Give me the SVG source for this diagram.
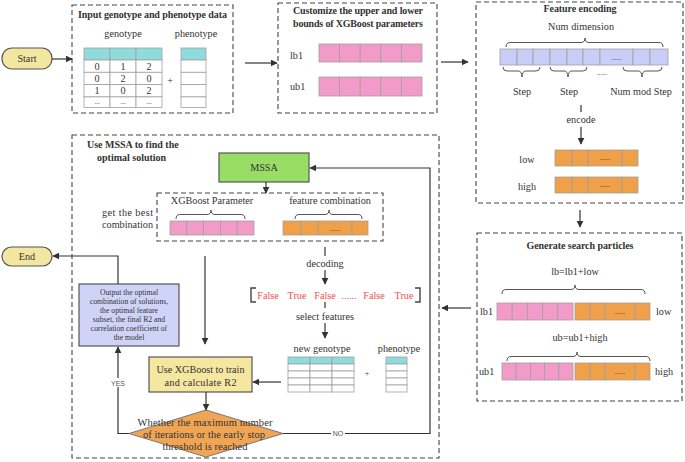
<svg xmlns="http://www.w3.org/2000/svg" width="685" height="462" viewBox="0 0 685 462">
<style>
text{font-family:"Liberation Serif","DejaVu Serif",serif;font-size:10.2px;fill:#333;}
.t{font-weight:bold;font-size:10px;}
.c{text-anchor:middle;}
.e{text-anchor:end;}
.dash{fill:none;stroke:#444;stroke-width:1.1;stroke-dasharray:5,3;}
.pk{fill:#f29ac8;stroke:#a0a0a0;stroke-width:0.8;}
.or{fill:#f0a048;stroke:#a0a0a0;stroke-width:0.8;}
.lv{fill:#c9cdf7;stroke:#a0a0a0;stroke-width:0.8;}
.cy{fill:#8edcdc;stroke:#a0a0a0;stroke-width:0.8;}
.cell{fill:#fff;stroke:#a0a0a0;stroke-width:0.8;}
.br{fill:none;stroke:#444;stroke-width:0.9;}
.ln{fill:none;stroke:#333;stroke-width:1.2;}
.ar{fill:none;stroke:#333;stroke-width:1.2;marker-end:url(#ah);}
.red{fill:#f05050;font-size:10.2px;}
.sm{font-size:7.7px;}
.lab{font-family:"Liberation Sans","DejaVu Sans",sans-serif;font-size:7px;fill:#555;}
.dots{font-size:7px;}
.dm{font-size:10.5px;}
</style>
<defs>
<marker id="ah" viewBox="0 0 10 10" refX="9" refY="5" markerWidth="7" markerHeight="7" markerUnits="userSpaceOnUse" orient="auto">
<path d="M0,0 L10,5 L0,10 z" fill="#333"/>
</marker>
</defs>

<g id="start">
<rect x="2" y="48" width="50" height="21" rx="10" fill="#f3e6a0" stroke="#555" stroke-width="1.2"/>
<text x="27" y="62" class="c">Start</text>
</g>

<g id="input-data">
<rect x="72" y="5" width="161" height="108" class="dash"/>
<text x="78" y="18" class="t" textLength="149">Input genotype and phenotype data</text>
<text x="123" y="37" class="c">genotype</text>
<text x="196" y="37" class="c">phenotype</text>
<rect x="84" y="48" width="26" height="12" class="cy"/>
<rect x="110" y="48" width="26" height="12" class="cy"/>
<rect x="136" y="48" width="26" height="12" class="cy"/>
<g class="cell">
<rect x="84" y="60" width="26" height="12.3"/><rect x="110" y="60" width="26" height="12.3"/><rect x="136" y="60" width="26" height="12.3"/>
<rect x="84" y="72.3" width="26" height="12.3"/><rect x="110" y="72.3" width="26" height="12.3"/><rect x="136" y="72.3" width="26" height="12.3"/>
<rect x="84" y="84.6" width="26" height="12.3"/><rect x="110" y="84.6" width="26" height="12.3"/><rect x="136" y="84.6" width="26" height="12.3"/>
<rect x="84" y="96.9" width="26" height="10.5"/><rect x="110" y="96.9" width="26" height="10.5"/><rect x="136" y="96.9" width="26" height="10.5"/>
</g>
<text x="97" y="69.5" class="c">0</text><text x="123" y="69.5" class="c">1</text><text x="149" y="69.5" class="c">2</text>
<text x="97" y="81.8" class="c">0</text><text x="123" y="81.8" class="c">2</text><text x="149" y="81.8" class="c">0</text>
<text x="97" y="94.1" class="c">1</text><text x="123" y="94.1" class="c">0</text><text x="149" y="94.1" class="c">2</text>
<text x="97" y="104" class="c dots">...</text><text x="123" y="104" class="c dots">...</text><text x="149" y="104" class="c dots">...</text>
<text x="170" y="84" class="c">+</text>
<rect x="181" y="48" width="25" height="12" class="cy"/>
<g class="cell">
<rect x="181" y="60" width="25" height="12.3"/><rect x="181" y="72.3" width="25" height="12.3"/><rect x="181" y="84.6" width="25" height="12.3"/><rect x="181" y="96.9" width="25" height="10.5"/>
</g>
</g>

<g id="bounds">
<rect x="278" y="3" width="159" height="110" class="dash"/>
<text x="358" y="13.5" class="t c" textLength="130">Customize the upper and lower</text>
<text x="358" y="26.5" class="t c" textLength="130">bounds of XGBoost parameters</text>
<text x="290" y="59">lb1</text>
<rect x="319" y="44" width="20.6" height="18" class="pk"/><rect x="339.6" y="44" width="20.6" height="18" class="pk"/><rect x="360.2" y="44" width="20.6" height="18" class="pk"/><rect x="380.8" y="44" width="20.6" height="18" class="pk"/><rect x="401.4" y="44" width="20.6" height="18" class="pk"/>
<text x="290" y="90">ub1</text>
<rect x="319" y="77" width="20.6" height="19" class="pk"/><rect x="339.6" y="77" width="20.6" height="19" class="pk"/><rect x="360.2" y="77" width="20.6" height="19" class="pk"/><rect x="380.8" y="77" width="20.6" height="19" class="pk"/><rect x="401.4" y="77" width="20.6" height="19" class="pk"/>
</g>

<g id="feature-encoding">
<rect x="476" y="2" width="207" height="201" class="dash"/>
<text x="580" y="12" class="t c" textLength="73">Feature encoding</text>
<text x="581" y="30" class="c" textLength="66">Num dimension</text>
<path class="br" d="M506,47 Q506,42.5 510,42.5 L581,42.5 Q585,42.5 585,38 Q585,42.5 589,42.5 L659,42.5 Q663,42.5 663,47"/>
<rect x="500" y="49" width="17" height="16" class="lv"/><rect x="517" y="49" width="16" height="16" class="lv"/><rect x="533" y="49" width="17" height="16" class="lv"/><rect x="550" y="49" width="17" height="16" class="lv"/><rect x="567" y="49" width="16" height="16" class="lv"/><rect x="583" y="49" width="17" height="16" class="lv"/><rect x="600" y="49" width="33" height="16" class="lv"/><rect x="633" y="49" width="17" height="16" class="lv"/><rect x="650" y="49" width="18" height="16" class="lv"/>
<text x="616.5" y="60" class="c dots">......</text>
<path class="br" d="M503,67 Q503,71 507,71 L518,71 Q522,71 522,77 Q522,71 526,71 L536,71 Q540,71 540,67"/>
<path class="br" d="M550,67 Q550,71 554,71 L564,71 Q568,71 568,77 Q568,71 572,71 L583,71 Q587,71 587,67"/>
<path class="br" d="M623,67 Q623,71 627,71 L638,71 Q642,71 642,77 Q642,71 646,71 L658,71 Q662,71 662,67"/>
<text x="522" y="95" class="c">Step</text>
<text x="569" y="95" class="c">Step</text>
<text x="602" y="75" class="c dots">......</text>
<text x="641" y="95" class="c">Num mod Step</text>
<line x1="581" y1="105" x2="581" y2="112" class="ln"/>
<text x="581" y="123" class="c">encode</text>
<line x1="581" y1="127" x2="581" y2="144" class="ar"/>
<text x="527" y="163" class="c">low</text>
<rect x="555" y="150" width="17" height="16" class="or"/><rect x="572" y="150" width="16" height="16" class="or"/><rect x="588" y="150" width="34" height="16" class="or"/><rect x="622" y="150" width="16" height="16" class="or"/>
<text x="605" y="160" class="c dots">......</text>
<text x="527" y="190" class="c">high</text>
<rect x="555" y="177" width="17" height="16" class="or"/><rect x="572" y="177" width="16" height="16" class="or"/><rect x="588" y="177" width="34" height="16" class="or"/><rect x="622" y="177" width="16" height="16" class="or"/>
<text x="605" y="187" class="c dots">......</text>
</g>

<g id="search-particles">
<rect x="477" y="233" width="205" height="168" class="dash"/>
<text x="580" y="249" class="t c" textLength="107">Generate search particles</text>
<text x="575" y="275" class="c">lb=lb1+low</text>
<path class="br" d="M502,294 Q502,289.5 506,289.5 L571,289.5 Q575,289.5 575,285 Q575,289.5 579,289.5 L641,289.5 Q645,289.5 645,294"/>
<text x="480" y="315">lb1</text>
<rect x="497" y="303" width="15.2" height="17" class="pk"/><rect x="512.2" y="303" width="15.2" height="17" class="pk"/><rect x="527.4" y="303" width="15.2" height="17" class="pk"/><rect x="542.6" y="303" width="15.2" height="17" class="pk"/><rect x="557.8" y="303" width="15.2" height="17" class="pk"/>
<rect x="575" y="303" width="15" height="17" class="or"/><rect x="590" y="303" width="15" height="17" class="or"/><rect x="605" y="303" width="30" height="17" class="or"/><rect x="635" y="303" width="15" height="17" class="or"/>
<text x="620" y="314" class="c dots">......</text>
<text x="656" y="315">low</text>
<text x="580" y="341" class="c">ub=ub1+high</text>
<path class="br" d="M507,361 Q507,356.5 511,356.5 L573,356.5 Q577,356.5 577,352 Q577,356.5 581,356.5 L646,356.5 Q650,356.5 650,361"/>
<text x="479" y="375">ub1</text>
<rect x="502" y="363" width="14.2" height="17" class="pk"/><rect x="516.2" y="363" width="14.2" height="17" class="pk"/><rect x="530.4" y="363" width="14.2" height="17" class="pk"/><rect x="544.6" y="363" width="14.2" height="17" class="pk"/><rect x="558.8" y="363" width="14.2" height="17" class="pk"/>
<rect x="575" y="363" width="15" height="17" class="or"/><rect x="590" y="363" width="15" height="17" class="or"/><rect x="605" y="363" width="30" height="17" class="or"/><rect x="635" y="363" width="15" height="17" class="or"/>
<text x="620" y="374" class="c dots">......</text>
<text x="655" y="375">high</text>
</g>

<g id="mssa-frame">
<rect x="72" y="135" width="367" height="323" class="dash"/>
<text x="87" y="148" class="t">Use MSSA to find the</text>
<text x="97" y="160.5" class="t">optimal solution</text>
</g>

<g id="mssa">
<rect x="219" y="153" width="90" height="29" fill="#99dd66" stroke="#555" stroke-width="1.2"/>
<text x="264" y="171" class="c">MSSA</text>
</g>

<g id="best-combination">
<rect x="157" y="193" width="226" height="48" class="dash"/>
<text x="153" y="215.5" class="e" textLength="51">get the best</text>
<text x="153" y="227.5" class="e" textLength="51">combination</text>
<text x="212" y="204" class="c">XGBoost Parameter</text>
<path class="br" d="M176,219 Q176,214.5 180,214.5 L207,214.5 Q211,214.5 211,210 Q211,214.5 215,214.5 L241,214.5 Q245,214.5 245,219"/>
<rect x="170" y="221" width="16.8" height="14" class="pk"/><rect x="186.8" y="221" width="16.8" height="14" class="pk"/><rect x="203.6" y="221" width="16.8" height="14" class="pk"/><rect x="220.4" y="221" width="16.8" height="14" class="pk"/><rect x="237.2" y="221" width="16.8" height="14" class="pk"/>
<text x="330" y="204" class="c">feature combination</text>
<path class="br" d="M295,219 Q295,214.5 299,214.5 L325,214.5 Q329,214.5 329,210 Q329,214.5 333,214.5 L358,214.5 Q362,214.5 362,219"/>
<rect x="283" y="221" width="18" height="14" class="or"/><rect x="301" y="221" width="17" height="14" class="or"/><rect x="318" y="221" width="34" height="14" class="or"/><rect x="352" y="221" width="16" height="14" class="or"/>
<text x="335" y="231" class="c dots">......</text>
</g>

<g id="decoding">
<text x="325" y="267" class="c">decoding</text>
<path class="br" style="stroke-width:1.4" d="M256,288 L251,288 L251,302 L256,302"/>
<path class="br" style="stroke-width:1.4" d="M415,288 L420,288 L420,302 L415,302"/>
<text x="268" y="298.5" class="c red">False</text>
<text x="297" y="298.5" class="c red">True</text>
<text x="325" y="298.5" class="c red">False</text>
<text x="349" y="298.5" class="c red">......</text>
<text x="374" y="298.5" class="c red">False</text>
<text x="404" y="298.5" class="c red">True</text>
<text x="325" y="320" class="c">select features</text>
</g>

<g id="new-data">
<text x="322" y="352" class="c">new genotype</text>
<text x="399" y="352" class="c">phenotype</text>
<rect x="288" y="357" width="22" height="7" class="cy"/><rect x="310" y="357" width="22" height="7" class="cy"/><rect x="332" y="357" width="22" height="7" class="cy"/>
<g class="cell">
<rect x="288" y="364" width="22" height="7"/><rect x="310" y="364" width="22" height="7"/><rect x="332" y="364" width="22" height="7"/>
<rect x="288" y="371" width="22" height="7"/><rect x="310" y="371" width="22" height="7"/><rect x="332" y="371" width="22" height="7"/>
<rect x="288" y="378" width="22" height="7"/><rect x="310" y="378" width="22" height="7"/><rect x="332" y="378" width="22" height="7"/>
<rect x="288" y="385" width="22" height="7"/><rect x="310" y="385" width="22" height="7"/><rect x="332" y="385" width="22" height="7"/>
</g>
<text x="367" y="376" class="c sm">+</text>
<rect x="386" y="357" width="21" height="7" class="cy"/>
<g class="cell">
<rect x="386" y="364" width="21" height="7"/><rect x="386" y="371" width="21" height="7"/><rect x="386" y="378" width="21" height="7"/><rect x="386" y="385" width="21" height="7"/>
</g>
</g>

<g id="xgboost">
<rect x="149" y="357" width="103" height="35" fill="#f5e6a0" stroke="#555" stroke-width="1.2"/>
<text x="200.5" y="373" class="c" textLength="88">Use XGBoost to train</text>
<text x="200.5" y="385.5" class="c" textLength="72">and calculate R2</text>
</g>

<g id="decision">
<polygon points="206,410 283,433.5 206,457 129,433.5" fill="#f0a555" stroke="#777" stroke-width="1"/>
<text x="205" y="425.5" class="c dm" textLength="135">Whether the maximum number</text>
<text x="204" y="437.5" class="c dm" textLength="122">of iterations or the early stop</text>
<text x="205" y="449.5" class="c dm" textLength="85">threshold is reached</text>
</g>

<g id="output">
<rect x="79" y="284" width="100" height="62" fill="#d0d3f8" stroke="#555" stroke-width="1.2"/>
<text x="129" y="294.5" class="c sm">Output the optimal</text>
<text x="129" y="303.5" class="c sm">combination of solutions,</text>
<text x="129" y="312.5" class="c sm">the optimal feature</text>
<text x="129" y="321.5" class="c sm">subset, the final R2 and</text>
<text x="129" y="330.5" class="c sm">correlation coefficient of</text>
<text x="129" y="339.5" class="c sm">the model</text>
</g>

<g id="end">
<rect x="2" y="247" width="50" height="19" rx="9.5" fill="#f3e6a0" stroke="#555" stroke-width="1.2"/>
<text x="27" y="260" class="c">End</text>
</g>

<g id="connectors">
<line x1="52" y1="59" x2="72" y2="59" class="ar"/>
<line x1="245" y1="63" x2="277" y2="63" class="ar"/>
<line x1="441" y1="62" x2="468" y2="62" class="ar"/>
<line x1="580" y1="210" x2="580" y2="227" class="ar"/>
<line x1="471" y1="308" x2="442" y2="308" class="ar"/>
<line x1="266" y1="182" x2="266" y2="193" class="ar"/>
<line x1="325" y1="247" x2="325" y2="256" class="ln"/>
<line x1="325" y1="270" x2="325" y2="284" class="ar"/>
<line x1="325" y1="302" x2="325" y2="308" class="ln"/>
<line x1="325" y1="323" x2="325" y2="338" class="ar"/>
<line x1="281" y1="382" x2="253" y2="382" class="ar"/>
<line x1="205" y1="256" x2="205" y2="344" class="ar"/>
<line x1="206" y1="392" x2="206" y2="410" class="ar"/>
<polyline points="129,433.5 118,433.5 118,347" class="ar"/>
<polyline points="118,284 118,256 53,256" class="ar"/>
<polyline points="283,433.5 430,433.5 430,168 310,168" class="ar"/>
<rect x="110" y="378" width="16" height="9" fill="#fff"/>
<text x="118" y="385.5" class="lab" text-anchor="middle">YES</text>
<rect x="331" y="429" width="14" height="9" fill="#fff"/>
<text x="338" y="436" class="lab" text-anchor="middle">NO</text>
</g>
</svg>
